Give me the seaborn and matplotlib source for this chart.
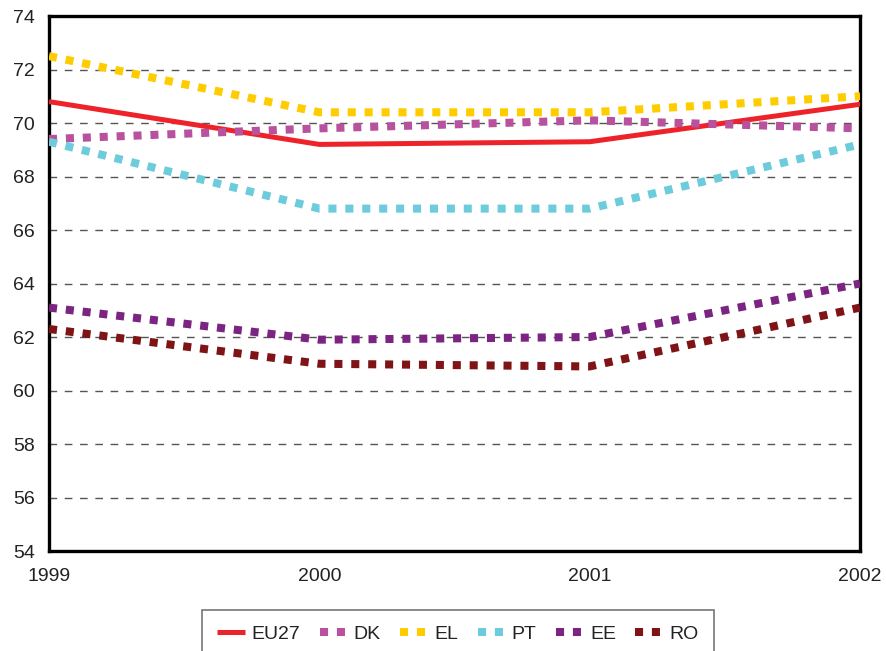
import matplotlib
matplotlib.use("Agg")
import matplotlib.pyplot as plt
import numpy as np
import pandas as pd
import seaborn as sns

years = [1999, 2000, 2001, 2002]
eu27 = [70.8, 69.2, 69.3, 70.7]
dk = [69.4, 69.8, 70.1, 69.8]
el = [72.5, 70.4, 70.4, 71.0]
pt = [69.3, 66.8, 66.8, 69.2]
ee = [63.1, 61.9, 62.0, 64.0]
ro = [62.3, 61.0, 60.9, 63.1]

series = ["EU27", "DK", "EL", "PT", "EE", "RO"]
values = [eu27, dk, el, pt, ee, ro]
colors = ["#EE2229", "#B8529E", "#FFCC00", "#6DCCDC", "#7B2481", "#7E1416"]

sns.set_style("white")
plt.rcParams['font.family'] = ['Liberation Sans', 'DejaVu Sans']

df = pd.DataFrame({
    "year": np.tile(years, len(series)),
    "value": np.concatenate(values),
    "series": np.repeat(series, len(years)),
})

fig = plt.figure(figsize=(8.86, 6.51), dpi=100)
ax = fig.add_axes([0.0553, 0.1536, 0.9154, 0.8218])

for name, col in zip(series, colors):
    sub = df[df["series"] == name]
    if name == "EU27":
        sns.lineplot(data=sub, x="year", y="value", ax=ax, color=col,
                     linewidth=3.6, label=name, solid_capstyle="butt", zorder=3)
    else:
        sns.lineplot(data=sub, x="year", y="value", ax=ax, color=col,
                     linewidth=5.8, label=name, linestyle=(0, (1, 1.1)),
                     dash_capstyle="butt", zorder=3)

ax.set_xlim(1999, 2002)
ax.set_ylim(54, 74)
ax.set_xticks(years)
ax.set_xticklabels([str(y) for y in years])
ax.set_yticks(np.arange(54, 75, 2))
ax.set_xlabel("")
ax.set_ylabel("")

for yv in np.arange(56, 74, 2):
    ax.axhline(yv, color="#555555", linewidth=1.0, linestyle=(0, (5.5, 5.5)), zorder=1)

for sp in ax.spines.values():
    sp.set_color("black")
    sp.set_linewidth(2.4)

ax.tick_params(axis="both", direction="out", length=7, width=1.0,
               color="#333333", labelsize=14, labelcolor="#222222", pad=3)
ax.tick_params(axis="x", pad=5)

leg = ax.legend(loc="upper center", bbox_to_anchor=(0.517, 0.063),
                bbox_transform=fig.transFigure, ncol=6, frameon=True,
                fancybox=False, edgecolor="#555555", fontsize=14,
                handlelength=1.4, handletextpad=0.35, columnspacing=1.0,
                borderpad=0.8, borderaxespad=0)
leg.get_frame().set_linewidth(1.2)
for t in leg.get_texts():
    t.set_color("#222222")

fig.savefig("out.png", dpi=100)
